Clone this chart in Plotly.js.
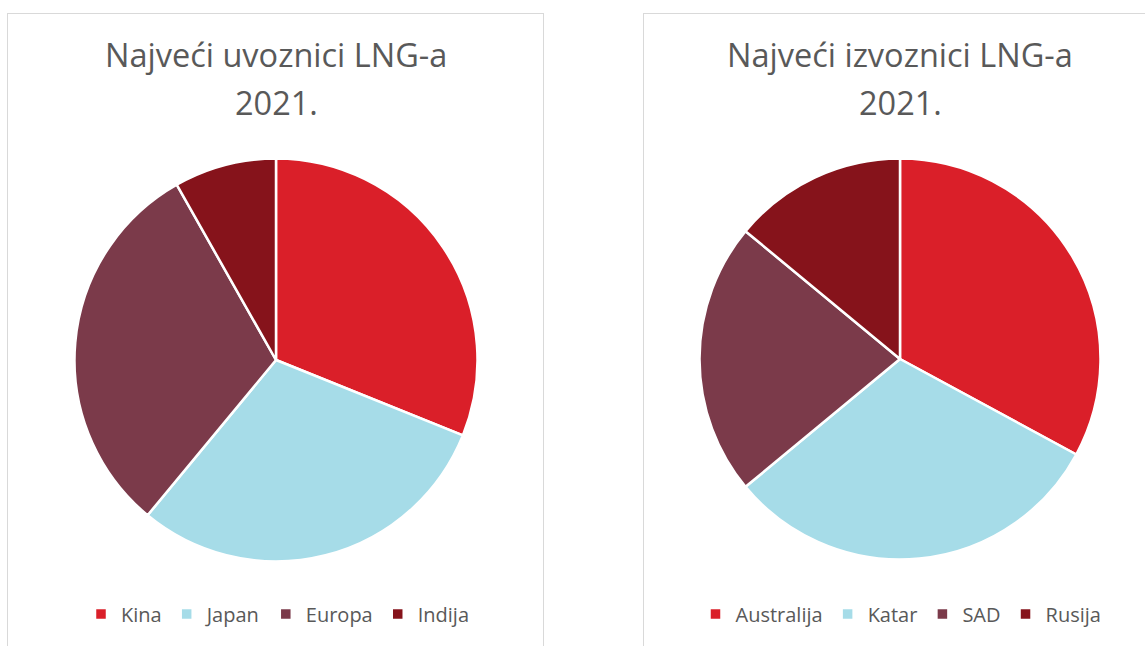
<!DOCTYPE html>
<html>
<head>
<meta charset="utf-8">
<script src="https://cdn.plot.ly/plotly-3.0.1.min.js"></script>
<style>
  html, body { margin: 0; padding: 0; width: 1145px; height: 646px; overflow: hidden; background: #ffffff; }
  .panel { position: absolute; top: 13px; height: 650px; border: 1.5px solid #d9d9d9; box-sizing: border-box; background: #fff; }
  #left { left: 7px; width: 537px; }
  #right { left: 643px; width: 520px; }
</style>
</head>
<body>
<div id="left" class="panel"></div>
<div id="right" class="panel"></div>
<script>
// Data (shares, %)
const importTitle = ["Najveći uvoznici LNG-a", "2021."];
const importLabels = ["Kina", "Japan", "Europa", "Indija"];
const importValues = [31.1, 29.9, 30.8, 8.2];

const exportTitle = ["Najveći izvoznici LNG-a", "2021."];
const exportLabels = ["Australija", "Katar", "SAD", "Rusija"];
const exportValues = [32.9, 31.1, 22.0, 14.0];

const colors = ["#DA1F29", "#A6DCE8", "#7B3A4A", "#86131B"];

const fontFam = "'Open Sans', 'Noto Sans', sans-serif";
const textCol = "#595959";

function makePie(divId, titleLines, labels, values, W, H, cx, cy, r, legendX) {
  const trace = {
    type: "pie",
    labels: labels,
    values: values,
    sort: false,
    direction: "clockwise",
    rotation: 0,
    textinfo: "none",
    hoverinfo: "label+value",
    marker: { colors: colors, line: { color: "#ffffff", width: 2.5 } },
    domain: {
      x: [(cx - r) / W, (cx + r) / W],
      y: [(H - cy - r) / H, (H - cy + r) / H]
    }
  };
  const titleY = [41, 88];
  const layout = {
    width: W,
    height: H,
    margin: { l: 0, r: 0, t: 0, b: 0 },
    paper_bgcolor: "rgba(0,0,0,0)",
    plot_bgcolor: "rgba(0,0,0,0)",
    showlegend: true,
    legend: {
      orientation: "h",
      x: legendX / W,
      xanchor: "center",
      y: (H - 600) / H,
      yanchor: "middle",
      font: { family: fontFam, size: 20, color: textCol },
      itemclick: false
    },
    annotations: titleLines.map((t, i) => ({
      text: t,
      xref: "paper", yref: "paper",
      x: cx / W, y: (H - titleY[i]) / H,
      xanchor: "center", yanchor: "middle",
      showarrow: false,
      font: { family: fontFam, size: 32.5, color: textCol }
    }))
  };
  Plotly.newPlot(divId, [trace], layout, { displayModeBar: false });
}

makePie("left", importTitle, importLabels, importValues, 534, 647, 268, 346, 201.5, 270);
makePie("right", exportTitle, exportLabels, exportValues, 517, 647, 256, 345, 200.5, 257);
</script>
</body>
</html>
